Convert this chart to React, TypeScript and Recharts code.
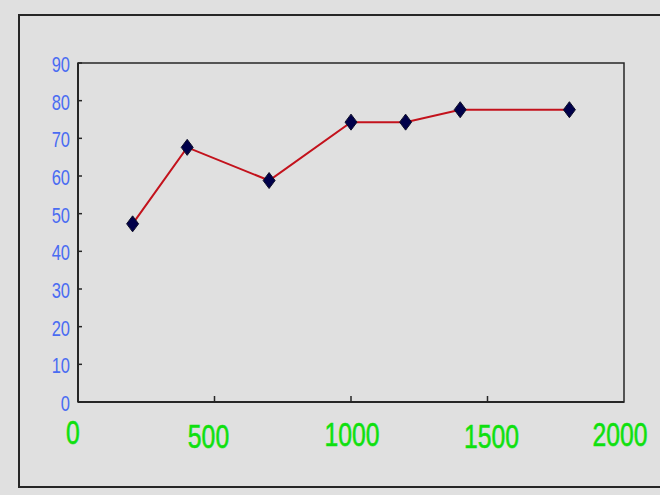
import { LineChart, Line, XAxis, YAxis, ReferenceArea } from 'recharts'

const xValues = [200, 400, 700, 1000, 1200, 1400, 1800]
const yValues = [47.3, 67.6, 58.8, 74.3, 74.3, 77.6, 77.6]
const xTicks = [0, 500, 1000, 1500, 2000]
const yTicks = [0, 10, 20, 30, 40, 50, 60, 70, 80, 90]

// the green labels sit a bit off their ticks in the original bitmap
const xLabelDx = [-5, -6, 1, 4, -4]
const xLabelDy = [42, 46, 44, 46, 44]

const data = xValues.map((x, i) => ({ x, y: yValues[i] }))

const BLUE = '#4a6cf2'
const GREEN = '#0fe00f'
const FRAME = '#262626'

function YTick(props: any) {
    const { x, y, payload } = props
    const axisX = x + 8
    return (
        <g>
            <line x1={axisX} x2={axisX + 4} y1={y} y2={y} stroke={FRAME} strokeWidth={1.5} />
            <text
                transform={`translate(${x}, ${y + 9}) scale(0.75, 1)`}
                textAnchor="end"
                fill={BLUE}
                fontSize={22}
                fontFamily="Liberation Sans, Arial, sans-serif"
            >
                {payload.value}
            </text>
        </g>
    )
}

function XTick(props: any) {
    const { x, y, payload, index } = props
    const v = payload.value
    return (
        <g>
            {v > 0 && v < 2000 && (
                <line x1={x} x2={x} y1={y} y2={y - 6} stroke={FRAME} strokeWidth={1.5} />
            )}
            <text
                transform={`translate(${x + (xLabelDx[index] || 0)}, ${y + (xLabelDy[index] || 44)}) scale(0.75, 1)`}
                textAnchor="middle"
                fill={GREEN}
                fontSize={33}
                fontFamily="Liberation Sans, Arial, sans-serif"
                stroke={GREEN}
                strokeWidth={0.6}
            >
                {v}
            </text>
        </g>
    )
}

function Diamond(props: any) {
    const { cx, cy } = props
    if (cx == null || cy == null) return null
    return (
        <polygon
            points={`${cx},${cy - 8} ${cx + 6},${cy} ${cx},${cy + 8} ${cx - 6},${cy}`}
            fill="#00004a"
            stroke="#10102a"
            strokeWidth={1}
        />
    )
}

export default function App() {
    return (
        <div style={{ position: 'relative', width: 660, height: 495, background: '#e0e0e0', overflow: 'hidden' }}>
            <style>{`body { margin: 0; }`}</style>
            <div
                style={{
                    position: 'absolute',
                    left: 18,
                    top: 14,
                    width: 700,
                    height: 470,
                    border: `2px solid ${FRAME}`,
                }}
            />
            <LineChart
                width={660}
                height={495}
                data={data}
                margin={{ top: 63, right: 36, bottom: 53, left: 18 }}
                style={{ position: 'absolute', left: 0, top: 0 }}
            >
                <ReferenceArea x1={0} x2={2000} y1={0} y2={90} fill="none" stroke={FRAME} strokeWidth={1.5} />
                <XAxis
                    type="number"
                    dataKey="x"
                    domain={[0, 2000]}
                    ticks={xTicks}
                    tickSize={0}
                    tickMargin={0}
                    height={40}
                    axisLine={{ stroke: FRAME, strokeWidth: 2 }}
                    tick={<XTick />}
                    interval={0}
                />
                <YAxis
                    type="number"
                    domain={[0, 90]}
                    ticks={yTicks}
                    tickSize={0}
                    tickMargin={8}
                    width={60}
                    axisLine={{ stroke: FRAME, strokeWidth: 2 }}
                    tick={<YTick />}
                    interval={0}
                />
                <Line
                    dataKey="y"
                    stroke="none"
                    dot={<Diamond />}
                    activeDot={false}
                    isAnimationActive={false}
                />
                <Line
                    dataKey="y"
                    stroke="#c3121c"
                    strokeWidth={2}
                    dot={false}
                    activeDot={false}
                    isAnimationActive={false}
                />
            </LineChart>
        </div>
    )
}
